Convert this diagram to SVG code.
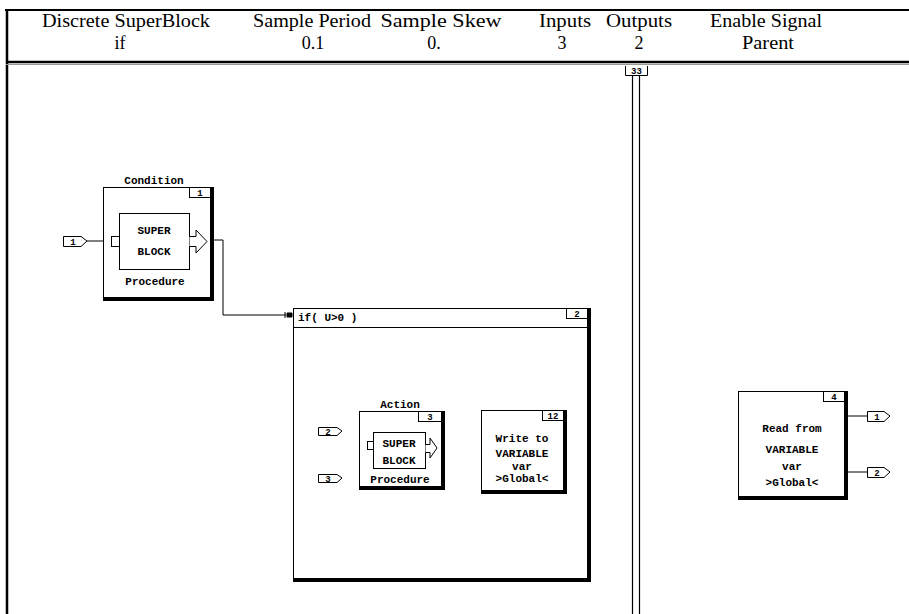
<svg xmlns="http://www.w3.org/2000/svg" width="909" height="614" viewBox="0 0 909 614">
<style>
.h{font-family:"Liberation Serif",serif;font-size:18px;fill:#000;text-anchor:middle}
.m{font-family:"Liberation Mono","DejaVu Sans Mono",monospace;font-size:11px;font-weight:bold;fill:#000;text-anchor:middle}
.s{font-family:"Liberation Mono","DejaVu Sans Mono",monospace;font-size:9px;font-weight:bold;fill:#000;text-anchor:middle}
.box{fill:#fff;stroke:#000;stroke-width:1}
.ln{fill:none;stroke:#000;stroke-width:1}
.port{fill:#fff;stroke:#000;stroke-width:1}
</style>
<rect x="0" y="0" width="909" height="614" fill="#fff"/>
<g id="frame">
<line x1="5" y1="10" x2="909" y2="10" stroke="#000" stroke-width="2"/>
<line x1="7" y1="9" x2="7" y2="614" stroke="#000" stroke-width="2.5"/>
<line x1="6" y1="62" x2="909" y2="62" stroke="#000" stroke-width="2.5"/>
<line x1="6" y1="64.5" x2="909" y2="64.5" stroke="#999" stroke-width="1"/>
</g>
<g id="header">
<text class="h" x="126" y="27" textLength="168" lengthAdjust="spacingAndGlyphs">Discrete SuperBlock</text>
<text class="h" x="120" y="49">if</text>
<text class="h" x="312" y="27" textLength="118" lengthAdjust="spacingAndGlyphs">Sample Period</text>
<text class="h" x="313" y="49">0.1</text>
<text class="h" x="441" y="27" textLength="121" lengthAdjust="spacingAndGlyphs">Sample Skew</text>
<text class="h" x="434" y="49">0.</text>
<text class="h" x="565" y="27" textLength="52" lengthAdjust="spacingAndGlyphs">Inputs</text>
<text class="h" x="562" y="49">3</text>
<text class="h" x="639" y="27" textLength="66" lengthAdjust="spacingAndGlyphs">Outputs</text>
<text class="h" x="639" y="49">2</text>
<text class="h" x="766" y="27" textLength="112" lengthAdjust="spacingAndGlyphs">Enable Signal</text>
<text class="h" x="768" y="49" textLength="52" lengthAdjust="spacingAndGlyphs">Parent</text>
</g>
<g id="connectors">
<path class="ln" d="M87,241 H103"/>
<path class="ln" d="M210,240 H223 V315 H286"/>
<path d="M285,312 V318 M287,313 H292 V317 H287 Z" fill="#000" stroke="#000" stroke-width="1"/>
<path class="ln" d="M342,431 H359"/>
<path class="ln" d="M342,478 H359"/>
<path class="ln" d="M445,432 H452"/>
<path class="ln" d="M445,471 H452"/>
<path class="ln" d="M458,432 H461 M469,432 H476"/>
<path class="ln" d="M458,471 H461 M469,471 H476"/>
<path d="M474,429.5 V434.5 M476,430 H481 V434 H476 Z" fill="#000" stroke="#000" stroke-width="1"/>
<path d="M474,468.5 V473.5 M476,469 H481 V473 H476 Z" fill="#000" stroke="#000" stroke-width="1"/>
<text class="m" x="465" y="436">1</text>
<text class="m" x="465" y="475">2</text>
<path class="ln" d="M848,416 H867"/>
<path class="ln" d="M848,472 H867"/>
<line x1="632.5" y1="75" x2="632.5" y2="614" stroke="#000" stroke-width="1.2"/>
<line x1="639.5" y1="75" x2="639.5" y2="614" stroke="#000" stroke-width="1.2"/>
<path class="ln" d="M625.5,66 V75.5 H647.5 V66"/>
<text class="s" x="636.5" y="74">33</text>
</g>
<g id="mux">
<rect x="452.5" y="429.5" width="5" height="45" fill="#fff" stroke="#000" stroke-width="2"/>
</g>
<g id="in1">
<path class="port" d="M63.5,236.5 H81 L87,241 L81,246.5 H63.5 Z"/>
<text class="s" x="73" y="245">1</text>
</g>
<g id="condition">
<text class="m" x="154" y="184">Condition</text>
<rect x="103" y="187" width="111" height="114" fill="#000"/>
<rect class="box" x="103.5" y="187.5" width="107" height="110"/>
<rect class="box" x="189.5" y="187.5" width="21" height="10"/>
<text class="s" x="200" y="196">1</text>
<rect class="box" x="119.5" y="213.5" width="70" height="56"/>
<rect class="box" x="111.5" y="236.5" width="8" height="10"/>
<path class="box" d="M189.5,236.5 H196 V230 L207,241.5 L196,253 V246.5 H189.5"/>
<text class="m" x="154" y="234">SUPER</text>
<text class="m" x="154" y="255">BLOCK</text>
<text class="m" x="155" y="285">Procedure</text>
</g>
<g id="ifblock">
<rect x="293" y="308" width="298" height="274" fill="#000"/>
<rect class="box" x="293.5" y="308.5" width="294" height="270"/>
<line x1="293.5" y1="327.5" x2="587.5" y2="327.5" stroke="#000" stroke-width="1"/>
<rect class="box" x="566.5" y="308.5" width="21" height="10"/>
<text class="s" x="577" y="317">2</text>
<text class="m" x="298" y="321" style="text-anchor:start">if( U&gt;0 )</text>
</g>
<g id="in2">
<path class="port" d="M318.5,427.5 H337 L342,431 L337,435.5 H318.5 Z"/>
<text class="s" x="328" y="434.5">2</text>
</g>
<g id="in3">
<path class="port" d="M318.5,474.5 H337 L342,478 L337,482.5 H318.5 Z"/>
<text class="s" x="328" y="481.5">3</text>
</g>
<g id="action">
<text class="m" x="400" y="408">Action</text>
<rect x="359" y="411" width="86" height="79" fill="#000"/>
<rect class="box" x="359.5" y="411.5" width="82" height="75"/>
<rect class="box" x="418.5" y="411.5" width="23" height="10"/>
<text class="s" x="430" y="420">3</text>
<rect class="box" x="373.5" y="432.5" width="52" height="36"/>
<rect class="box" x="367.5" y="441.5" width="6" height="8"/>
<path class="box" d="M425.5,444.5 H430 V438 L437,448 L430,458 V452.5 H425.5"/>
<text class="m" x="399" y="447">SUPER</text>
<text class="m" x="399" y="464">BLOCK</text>
<text class="m" x="400" y="483">Procedure</text>
</g>
<g id="write">
<rect x="481" y="410" width="86" height="84" fill="#000"/>
<rect class="box" x="481.5" y="410.5" width="82" height="80"/>
<rect class="box" x="542.5" y="410.5" width="21" height="10"/>
<text class="s" x="553" y="419">12</text>
<text class="m" x="522" y="442">Write to</text>
<text class="m" x="522" y="457">VARIABLE</text>
<text class="m" x="522" y="470">var</text>
<text class="m" x="522" y="482">&gt;Global&lt;</text>
</g>
<g id="read">
<rect x="738" y="391" width="110" height="109" fill="#000"/>
<rect class="box" x="738.5" y="391.5" width="106" height="105"/>
<rect class="box" x="823.5" y="391.5" width="21" height="10"/>
<text class="s" x="834" y="400">4</text>
<text class="m" x="792" y="432">Read from</text>
<text class="m" x="792" y="453">VARIABLE</text>
<text class="m" x="792" y="470">var</text>
<text class="m" x="792" y="486">&gt;Global&lt;</text>
</g>
<g id="out1">
<path class="port" d="M867.5,411.5 H884 L890,416 L884,421.5 H867.5 Z"/>
<text class="s" x="877" y="420">1</text>
</g>
<g id="out2">
<path class="port" d="M867.5,467.5 H884 L890,472 L884,477.5 H867.5 Z"/>
<text class="s" x="877" y="476">2</text>
</g>
</svg>
